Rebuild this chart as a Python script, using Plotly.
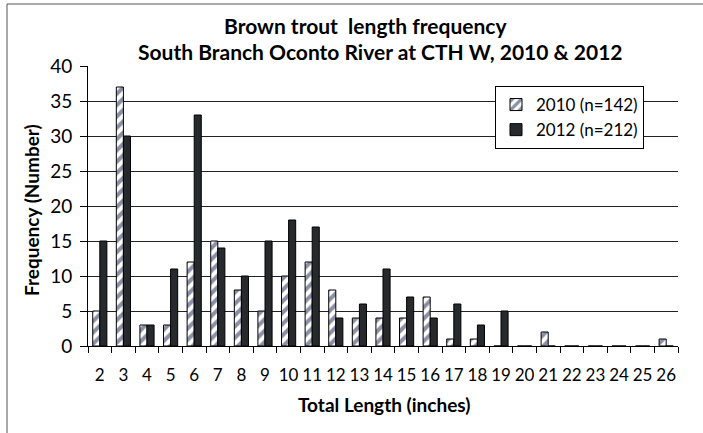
import plotly.graph_objects as go

lengths = [str(i) for i in range(2, 27)]
freq_2010 = [5, 37, 3, 3, 12, 15, 8, 5, 10, 12, 8, 4, 4, 4, 7, 1, 1, 0, 0, 2, 0, 0, 0, 0, 1]
freq_2012 = [15, 30, 3, 11, 33, 14, 10, 15, 18, 17, 4, 6, 11, 7, 4, 6, 3, 5, 0, 0, 0, 0, 0, 0, 0]
y_ticks = [0, 5, 10, 15, 20, 25, 30, 35, 40]
title_lines = ["Brown trout  length frequency", "South Branch Oconto River at CTH W, 2010 &amp; 2012"]

W, H = 703, 433
ML, MR, MT, MB = 88, 25, 66, 87
FONT = "Lato"
pw = W - ML - MR
ph = H - MT - MB


def px(x):
    return (x - ML) / pw


def py(y):
    return (H - MB - y) / ph


fig = go.Figure()
fig.add_trace(go.Bar(
    x=lengths, y=freq_2010, name="2010 (n=142)",
    marker=dict(color="white", line=dict(color="black", width=1),
                pattern=dict(shape="/", fgcolor="#16204a", bgcolor="white", size=8, solidity=0.5)),
))
fig.add_trace(go.Bar(
    x=lengths, y=freq_2012, name="2012 (n=212)",
    marker=dict(color="#262a2c", line=dict(color="black", width=1)),
))

fig.add_shape(type="rect", xref="paper", yref="paper",
              x0=px(7), x1=px(706), y0=py(436), y1=py(4),
              line=dict(color="#555555", width=1))

annotations = [
    dict(text="<b>" + title_lines[0] + "</b>", x=px(365), y=py(25), xref="paper", yref="paper",
         xanchor="center", yanchor="middle", showarrow=False, font=dict(size=21, family=FONT)),
    dict(text="<b>" + title_lines[1] + "</b>", x=px(380), y=py(52), xref="paper", yref="paper",
         xanchor="center", yanchor="middle", showarrow=False, font=dict(size=21, family=FONT)),
    dict(text="<b>Total Length (inches)</b>", x=px(384), y=py(404), xref="paper", yref="paper",
         xanchor="center", yanchor="middle", showarrow=False, font=dict(size=19, family=FONT)),
    dict(text="<b>Frequency (Number)</b>", x=px(31), y=py(210), xref="paper", yref="paper",
         xanchor="center", yanchor="middle", textangle=-90, showarrow=False, font=dict(size=19, family=FONT)),
]

fig.update_layout(
    width=W, height=H,
    margin=dict(l=ML, r=MR, t=MT, b=MB, autoexpand=False),
    paper_bgcolor="white", plot_bgcolor="white",
    barmode="group", bargap=0.4, bargroupgap=0.0,
    font=dict(family=FONT, color="black"),
    annotations=annotations,
    showlegend=True,
    legend=dict(x=px(644), y=py(86), xanchor="right", yanchor="top",
                bgcolor="white", bordercolor="black", borderwidth=1,
                font=dict(size=17, family=FONT), itemwidth=30, tracegroupgap=6),
    xaxis=dict(
        tickfont=dict(size=17, family=FONT), tickangle=0, automargin=False,
        showline=True, linecolor="black", linewidth=1,
        ticks="outside", tickson="boundaries", ticklen=6, tickcolor="black",
        showgrid=False, ticklabelstandoff=14,
    ),
    yaxis=dict(
        tickfont=dict(size=19, family=FONT), automargin=False,
        range=[0, 40], tickvals=y_ticks,
        showline=True, linecolor="black", linewidth=1,
        ticks="outside", ticklen=7, tickcolor="black", ticklabelstandoff=4,
        showgrid=True, gridcolor="#222222", gridwidth=1,
        zeroline=False,
    ),
)

fig.write_html("out.html", config={"displayModeBar": False},
               post_script="document.body.style.margin='0';document.body.style.overflow='hidden';")
